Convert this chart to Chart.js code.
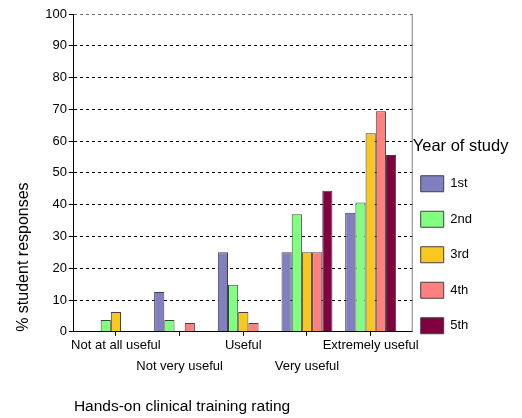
<!DOCTYPE html>
<html>
<head>
<meta charset="utf-8">
<script src="https://cdn.jsdelivr.net/npm/chart.js@4.4.0/dist/chart.umd.min.js"></script>
<style>
  body { margin: 0; background: #fff; }
</style>
</head>
<body>
<canvas id="chart" width="522" height="418"></canvas>
<script>
var ratings = [
    ["Not at all useful", ""],
    ["", "Not very useful"],
    ["Useful", ""],
    ["", "Very useful"],
    ["Extremely useful", ""],
];
var years = ["1st", "2nd", "3rd", "4th", "5th"];
var year1 = [0, 12.5, 25, 25, 37.5];
var year2 = [3.7, 3.7, 14.8, 37, 40.7];
var year3 = [6.25, 0, 6.25, 25, 62.5];
var year4 = [0, 2.8, 2.8, 25, 69.4];
var year5 = [0, 0, 0, 44.4, 55.6];
var colors = ["#8080c0", "#80ff80", "#f8c820", "#ff8080", "#800040"];

Chart.defaults.font.family = "'Liberation Sans', Arial, sans-serif";
Chart.defaults.color = "#000";

var series = [year1, year2, year3, year4, year5];
var data = {
    datasets: series.map(function (values, i) {
        return {
            // second blank line widens the legend so its title fits
            label: [years[i], "                "],
            data: values.map(function (v, j) {
                return { x: j, y: v };
            }),
            backgroundColor: colors[i],
            borderColor: "#404040",
            borderWidth: 1,
            categoryPercentage: 0.8,
            barPercentage: 1,
        };
    }),
};

// grey frame line on the right side of the plot
var rightBorder = {
    id: "rightBorder",
    afterDraw: function (chart) {
        var a = chart.chartArea;
        var ctx = chart.ctx;
        ctx.save();
        ctx.strokeStyle = "#808080";
        ctx.lineWidth = 1;
        ctx.beginPath();
        ctx.moveTo(a.right - 0.5, a.top);
        ctx.lineTo(a.right - 0.5, a.bottom);
        ctx.stroke();
        ctx.restore();
    },
};

new Chart(document.getElementById("chart").getContext("2d"), {
    type: "bar",
    data: data,
    plugins: [rightBorder],
    options: {
        responsive: false,
        animation: false,
        layout: {
            padding: { top: 14, left: 14, right: 4, bottom: 2 },
        },
        plugins: {
            tooltip: { enabled: false },
            legend: {
                position: "right",
                align: "start",
                title: {
                    display: true,
                    text: "Year of study",
                    position: "start",
                    font: { size: 16.5 },
                    padding: { top: 123.75, bottom: 10.2 },
                },
                labels: {
                    boxWidth: 23,
                    boxHeight: 16,
                    padding: 8,
                    font: { size: 13, lineHeight: 1.0577 },
                },
            },
        },
        scales: {
            x: {
                type: "linear",
                min: -0.66,
                max: 4.66,
                offset: false,
                grid: {
                    offset: false,
                    drawOnChartArea: false,
                    drawTicks: true,
                    tickLength: 4,
                    color: "#000",
                },
                border: { color: "#000", width: 1 },
                ticks: {
                    stepSize: 1,
                    includeBounds: false,
                    maxRotation: 0,
                    autoSkip: false,
                    font: { size: 13, lineHeight: 1.6 },
                    padding: -1,
                    callback: function (value) {
                        return ratings[value];
                    },
                },
                title: {
                    display: true,
                    text: "Hands-on clinical training rating",
                    align: "start",
                    font: { size: 15.5 },
                    padding: { top: 22, bottom: 0 },
                },
            },
            y: {
                min: 0,
                max: 100,
                ticks: {
                    stepSize: 10,
                    font: { size: 13 },
                    padding: 2,
                },
                grid: {
                    color: function (ctx) {
                        return ctx.tick && ctx.tick.value === 100 ? "#707070" : "#000";
                    },
                    tickLength: 5,
                    tickColor: "#000",
                },
                border: { color: "#000", width: 1, dash: [3, 3] },
                title: {
                    display: true,
                    text: "% student responses",
                    align: "start",
                    font: { size: 16 },
                    padding: { top: 0, bottom: 10 },
                },
            },
        },
    },
});
</script>
</body>
</html>
